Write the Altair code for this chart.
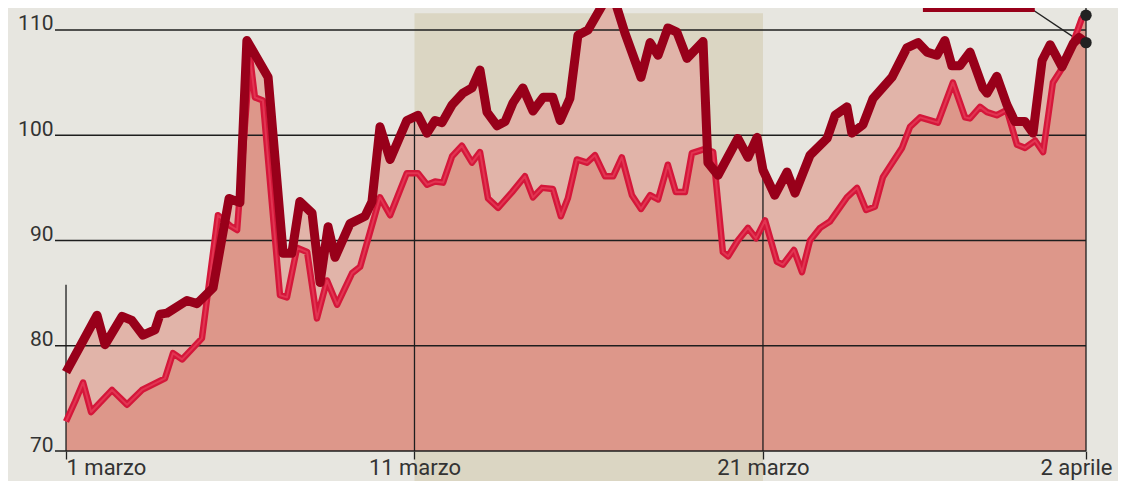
import altair as alt
import pandas as pd

# --- data (x: position in days from 1 marzo on the chart's axis) ---
t_scuro = [0.00, 0.89, 1.12, 1.61, 1.89, 2.21, 2.55, 2.70, 2.90, 3.47, 3.76, 4.22, 4.68, 4.99, 5.19,
           5.80, 6.23, 6.48, 6.71, 7.06, 7.29, 7.52, 7.72, 8.15, 8.58, 8.78, 9.01, 9.30, 9.78, 10.10,
           10.36, 10.59, 10.79, 11.08, 11.39, 11.65, 11.88, 12.08, 12.37, 12.60, 12.83, 13.11, 13.40,
           13.69, 13.97, 14.18, 14.46, 14.69, 14.98, 15.52, 15.70, 16.04, 16.50, 16.76, 16.99, 17.27,
           17.53, 17.82, 18.28, 18.42, 18.71, 19.28, 19.57, 19.83, 20.00, 20.34, 20.69, 20.92, 21.35,
           21.84, 22.07, 22.41, 22.55, 22.87, 23.16, 23.70, 24.13, 24.45, 24.71, 24.99, 25.22, 25.42,
           25.65, 25.94, 26.31, 26.43, 26.71, 27.00, 27.23, 27.52, 27.75, 28.01, 28.24, 28.58, 28.90,
           29.07, 29.27]
v_scuro = [77.5, 82.9, 80.1, 82.8, 82.4, 81.0, 81.5, 83.0, 83.1, 84.3, 84.0, 85.5, 94.0, 93.6, 109.0,
           105.5, 88.8, 88.8, 93.7, 92.6, 86.0, 91.3, 88.4, 91.6, 92.3, 93.7, 100.8, 97.7, 101.4, 101.9,
           100.2, 101.4, 101.2, 102.9, 104.0, 104.5, 106.2, 102.2, 100.9, 101.3, 103.1, 104.5, 102.3,
           103.6, 103.6, 101.4, 103.5, 109.5, 110.0, 113.1, 113.3, 109.7, 105.5, 108.8, 107.6, 110.2,
           109.8, 107.3, 108.9, 97.4, 96.2, 99.7, 97.9, 99.8, 96.7, 94.3, 96.5, 94.5, 98.1,
           99.7, 101.9, 102.7, 100.2, 101.0, 103.5, 105.5, 108.3, 108.8, 107.9, 107.6, 109.0, 106.6,
           106.6, 107.9, 104.5, 104.0, 105.6, 102.9, 101.3, 101.3, 100.2, 107.1, 108.6, 106.5, 108.7,
           109.3, 108.8]

t_chiaro = [0.00, 0.26, 0.49, 0.72, 1.32, 1.75, 2.18, 2.84, 3.07, 3.33, 3.90, 4.36, 4.71, 4.91, 5.28,
            5.42, 5.65, 6.14, 6.34, 6.63, 6.92, 7.20, 7.49, 7.78, 8.21, 8.44, 9.01, 9.30, 9.78, 10.10,
            10.36, 10.59, 10.82, 11.08, 11.36, 11.65, 11.88, 12.11, 12.40, 12.80, 13.17, 13.40, 13.66,
            13.97, 14.20, 14.40, 14.66, 14.95, 15.18, 15.47, 15.70, 15.95, 16.24, 16.50, 16.76, 16.99,
            17.27, 17.50, 17.76, 17.96, 18.34, 18.57, 18.85, 19.00, 19.28, 19.57, 19.80, 20.06, 20.40,
            20.57, 20.89, 21.12, 21.35, 21.64, 21.92, 22.41, 22.70, 22.96, 23.21, 23.44, 23.99, 24.22,
            24.51, 25.02, 25.45, 25.80, 25.94, 26.23, 26.43, 26.71, 27.00, 27.29, 27.52, 27.81, 28.04,
            28.32, 28.61, 28.90, 29.15, 29.27]
v_chiaro = [72.8, 74.7, 76.5, 73.7, 75.8, 74.4, 75.8, 76.9, 79.3, 78.7, 80.7, 92.4, 91.4, 91.0, 107.4,
            103.6, 103.3, 84.8, 84.6, 89.3, 88.9, 82.6, 86.2, 83.9, 86.9, 87.5, 94.1, 92.4, 96.4, 96.4,
            95.3, 95.6, 95.5, 98.0, 99.0, 97.4, 98.4, 94.0, 93.1, 94.6, 96.1, 94.1, 95.0,
            94.9, 92.3, 94.0, 97.7, 97.4, 98.1, 96.1, 96.1, 97.9, 94.3, 93.0, 94.3, 93.9,
            97.2, 94.6, 94.6, 98.3, 98.7, 98.4, 88.9, 88.5, 90.0, 91.2, 90.2, 91.9, 88.0,
            87.7, 89.1, 87.0, 90.0, 91.2, 91.8, 94.1, 95.0, 92.9, 93.2, 96.0, 98.8, 100.8,
            101.7, 101.2, 105.0, 101.7, 101.6, 102.7, 102.2, 101.9, 102.4, 99.1, 98.8, 99.5, 98.4,
            105.0, 106.5, 108.8, 111.1, 111.4]

tick_pos = [0, 10, 20, 29.27]
tick_lab = ["1 marzo", "11 marzo", "21 marzo", "2 aprile"]
y_ticks = [70, 80, 90, 100, 110]
rule_top = [85.8, 101.4, 96.5, 116.0]
periodo = {"t": 10, "t2": 20, "v": 111.6, "v2": 66.0}

X_DOM = [-0.316, 29.27]
Y_DOM = [70, 112.09]

df_s = pd.DataFrame({"t": t_scuro, "v": v_scuro})
df_c = pd.DataFrame({"t": t_chiaro, "v": v_chiaro})
df_rules = pd.DataFrame({"t": tick_pos, "v": rule_top})
df_grid = pd.DataFrame({"v": y_ticks, "t": X_DOM[0], "t2": X_DOM[1]})
df_band = pd.DataFrame([periodo])
df_dots = pd.DataFrame({"t": [t_chiaro[-1], t_scuro[-1]], "v": [v_chiaro[-1], v_scuro[-1]]})
df_box = pd.DataFrame({"t": [24.59], "t2": [27.80], "v": [111.7], "v2": [116.5]})
df_lead = pd.DataFrame({"t": [27.75], "t2": [29.15], "v": [111.9], "v2": [108.8]})

label_expr = " : ".join(
    f"datum.value == {p} ? '{l}'" for p, l in zip(tick_pos[:-1], tick_lab[:-1])
) + f" : '{tick_lab[-1]}'"

xs = alt.Scale(domain=X_DOM, nice=False, zero=False)
ys = alt.Scale(domain=Y_DOM, nice=False, zero=False)

FONT = "Roboto"

x_axis = alt.Axis(values=tick_pos, labelExpr=label_expr, title=None, domain=False,
                  grid=False, tickSize=8, tickColor="#222222", tickWidth=1.3,
                  labelFontSize=22, labelColor="#333333", labelFont=FONT,
                  labelBaseline="alphabetic", labelPadding=15, labelFlush=False,
                  labelOverlap=False, zindex=1,
                  labelAlign={"condition": {"test": "datum.value == 0", "value": "left"},
                              "value": "center"},
                  labelOffset={"condition": {"test": f"datum.value == {tick_pos[-1]}", "value": -10},
                               "value": 0})
y_axis = alt.Axis(values=y_ticks, title=None, domain=False, grid=False, ticks=False,
                  labelFontSize=21, labelColor="#333333", labelFont=FONT,
                  labelBaseline="alphabetic", labelPadding=2, labelAlign="right")

X = alt.X("t:Q", scale=xs, axis=x_axis)
Y = alt.Y("v:Q", scale=ys, axis=y_axis)

band = alt.Chart(df_band).mark_rect(color="#DBD6C3").encode(x=X, x2="t2:Q", y=Y, y2="v2:Q")

area_s = alt.Chart(df_s).mark_area(color="#E1B4A9", opacity=1).encode(x=X, y=Y, y2=alt.datum(70))
area_c = alt.Chart(df_c).mark_area(color="#DD978A", opacity=1).encode(x=X, y=Y, y2=alt.datum(70))

grid = alt.Chart(df_grid).mark_rule(color="#1E1E1E", strokeWidth=1.3).encode(x=X, x2="t2:Q", y=Y)

vrules = alt.Chart(df_rules).mark_rule(color="#1E1E1E", strokeWidth=1.3).encode(
    x=X, y=Y, y2=alt.datum(70))

lead = alt.Chart(df_lead).mark_rule(color="#222222", strokeWidth=1.5).encode(
    x=X, x2="t2:Q", y=Y, y2="v2:Q")

line_c_out = alt.Chart(df_c).mark_line(color="#D4173A", strokeWidth=6.5, strokeJoin="round").encode(x=X, y=Y)
line_c_in = alt.Chart(df_c).mark_line(color="#E23552", strokeWidth=2, strokeJoin="round").encode(x=X, y=Y)
line_s = alt.Chart(df_s).mark_line(color="#98001A", strokeWidth=9, strokeJoin="round").encode(x=X, y=Y)

dots = alt.Chart(df_dots).mark_circle(color="#222222", size=130, opacity=1).encode(x=X, y=Y)

box = alt.Chart(df_box).mark_rect(color="#98001A").encode(x=X, x2="t2:Q", y=Y, y2="v2:Q")

chart = alt.layer(
    band, area_s, area_c, grid, vrules, lead, line_c_out, line_c_in, line_s, dots, box
).properties(
    width=1031, height=443,
    autosize=alt.AutoSizeParams(type="none"),
    padding={"left": 47, "top": 0, "right": 32, "bottom": 30},
    background="#E7E6E0",
).configure_view(stroke=None)

chart.save("out.html", embed_options={"renderer": "svg", "actions": False})
